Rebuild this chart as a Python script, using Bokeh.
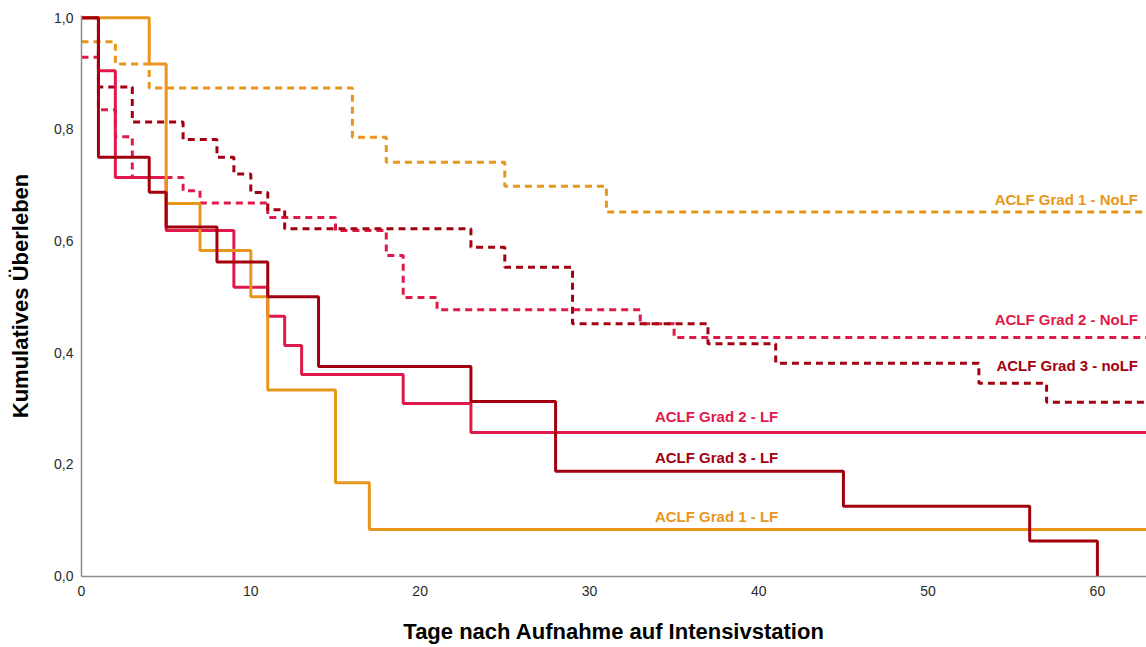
from bokeh.plotting import figure
from bokeh.models import FixedTicker, CustomJSTickFormatter, ColumnDataSource, Range1d
from bokeh.core.properties import value
from bokeh.embed import file_html
from bokeh.resources import INLINE

# Kaplan-Meier steps: event times (days) and survival after each step
g1_lf_t = [0, 4, 5, 7, 10, 11, 15, 17, 64]
g1_lf_s = [1.0, 0.917, 0.667, 0.583, 0.5, 0.333, 0.167, 0.083, 0.083]

g2_lf_t = [0, 1, 2, 5, 9, 11, 12, 13, 19, 23, 64]
g2_lf_s = [1.0, 0.905, 0.714, 0.619, 0.517, 0.465, 0.413, 0.361, 0.309, 0.257, 0.257]

g3_lf_t = [0, 1, 4, 5, 8, 11, 14, 23, 28, 45, 56, 60]
g3_lf_s = [1.0, 0.75, 0.6875, 0.625, 0.5625, 0.5, 0.375, 0.3125, 0.1875, 0.125, 0.0625, 0.0]

g1_nolf_t = [0, 2, 4, 16, 18, 25, 31, 64]
g1_nolf_s = [0.957, 0.917, 0.874, 0.786, 0.741, 0.698, 0.652, 0.652]

g2_nolf_t = [0, 1, 2, 3, 6, 7, 11, 15, 18, 19, 21, 33, 35, 64]
g2_nolf_s = [0.929, 0.835, 0.787, 0.714, 0.690, 0.668, 0.642, 0.619, 0.574, 0.499, 0.477, 0.452, 0.427, 0.427]

g3_nolf_t = [0, 1, 3, 6, 8, 9, 10, 11, 12, 23, 25, 29, 37, 41, 53, 57, 64]
g3_nolf_s = [1.0, 0.876, 0.813, 0.782, 0.750, 0.720, 0.687, 0.656, 0.622, 0.589, 0.553,
             0.452, 0.416, 0.381, 0.345, 0.311, 0.311]

x_ticks = [0, 10, 20, 30, 40, 50, 60]
y_ticks = [0.0, 0.2, 0.4, 0.6, 0.8, 1.0]
y_tick_labels = ["0,0", "0,2", "0,4", "0,6", "0,8", "1,0"]

group_labels = ["ACLF Grad 1 - NoLF", "ACLF Grad 2 - NoLF", "ACLF Grad 3 - noLF",
                "ACLF Grad 2 - LF", "ACLF Grad 3 - LF", "ACLF Grad 1 - LF"]

ORANGE = "#E8951C"
CRIMSON = "#DF1A4A"
DARKRED = "#A3000F"

FONT = "Liberation Sans"

p = figure(width=1146, height=647, output_backend="svg", toolbar_location=None,
           x_range=Range1d(0, 62.9), y_range=Range1d(-0.001, 1.004),
           min_border_left=81, min_border_right=0, min_border_top=15, min_border_bottom=71)
p.outline_line_color = None
p.xgrid.visible = False
p.ygrid.visible = False
p.background_fill_color = "white"
p.border_fill_color = "white"

# dashed curves (no liver failure) underneath
for t, s, c in [(g1_nolf_t, g1_nolf_s, ORANGE), (g2_nolf_t, g2_nolf_s, CRIMSON),
                (g3_nolf_t, g3_nolf_s, DARKRED)]:
    p.step(t, s, mode="after", line_color=c, line_width=3, line_dash="7 5")

# solid curves (liver failure)
for t, s, c in [(g2_lf_t, g2_lf_s, CRIMSON), (g1_lf_t, g1_lf_s, ORANGE),
                (g3_lf_t, g3_lf_s, DARKRED)]:
    p.step(t, s, mode="after", line_color=c, line_width=3)

# curve annotations
lab_src = ColumnDataSource(dict(
    x=[62.4, 62.4, 62.4, 41.15, 41.15, 41.15],
    y=[0.674, 0.459, 0.377, 0.286, 0.213, 0.107],
    text=group_labels,
    color=[ORANGE, CRIMSON, DARKRED, CRIMSON, DARKRED, ORANGE],
))
p.text(x="x", y="y", text="text", source=lab_src, text_color="color",
       text_align="right", text_baseline="middle", text_font=value(FONT),
       text_font_style="bold", text_font_size="15px")

for ax in (p.xaxis[0], p.yaxis[0]):
    ax.axis_line_color = "#8c8c8c"
    ax.axis_line_width = 1.5
    ax.major_tick_line_color = None
    ax.minor_tick_line_color = None
    ax.major_tick_out = 0
    ax.major_tick_in = 0
    ax.minor_tick_out = 0
    ax.major_label_text_font = FONT
    ax.major_label_text_font_size = "14px"
    ax.major_label_text_color = "#2a2a2a"
    ax.axis_label_text_font = FONT
    ax.axis_label_text_font_size = "22px"
    ax.axis_label_text_font_style = "bold"
    ax.axis_label_text_color = "black"

p.xaxis.ticker = FixedTicker(ticks=x_ticks)
p.xaxis.major_label_standoff = 9
p.xaxis.axis_label = "Tage nach Aufnahme auf Intensivstation"
p.xaxis.axis_label_standoff = 20

p.yaxis.ticker = FixedTicker(ticks=y_ticks)
p.yaxis.formatter = CustomJSTickFormatter(
    args=dict(tick_values=y_ticks, tick_labels=y_tick_labels),
    code="""
    let best = 0;
    for (let i = 0; i < tick_values.length; i++) {
        if (Math.abs(tick_values[i] - tick) < Math.abs(tick_values[best] - tick)) best = i;
    }
    return tick_labels[best];
    """)
p.yaxis.major_label_standoff = 8
p.yaxis.axis_label = "Kumulatives Überleben"
p.yaxis.axis_label_standoff = 18

open("out.html", "w").write(file_html(p, INLINE))
